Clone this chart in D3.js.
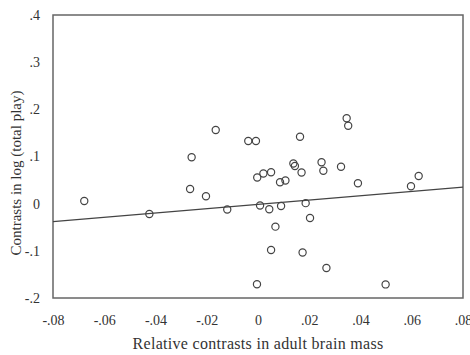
<!DOCTYPE html>
<html>
<head>
<meta charset="utf-8">
<script src="https://cdn.jsdelivr.net/npm/d3@7"></script>
<style>
  body { margin: 0; background: #fff; }
  svg { display: block; }
</style>
</head>
<body>
<svg id="chart" width="470" height="355"></svg>
<script>
// Species contrasts: relative brain mass vs. log total play
const brainContrast = [
  -0.0678, -0.0424, -0.0259, -0.0265, -0.0203, -0.0165, -0.0038, -0.0008,
  -0.0120, -0.0003, 0.0021, 0.0051, 0.0086, 0.0107, 0.0008, 0.0044,
  0.0090, 0.0068, 0.0051, -0.0004, 0.0164, 0.0138, 0.0144, 0.0170,
  0.0186, 0.0203, 0.0174, 0.0248, 0.0255, 0.0324, 0.0346, 0.0352,
  0.0390, 0.0267, 0.0498, 0.0597, 0.0627
];
const playContrast = [
  0.0057, -0.0218, 0.0983, 0.0311, 0.0157, 0.1562, 0.1329, 0.1329,
  -0.0123, 0.0555, 0.0640, 0.0665, 0.0453, 0.0492, -0.0038, -0.0119,
  -0.0049, -0.0487, -0.0981, -0.1708, 0.1420, 0.0852, 0.0799, 0.0661,
  0.0011, -0.0303, -0.1034, 0.0877, 0.0697, 0.0782, 0.1810, 0.1651,
  0.0432, -0.1363, -0.1712, 0.0369, 0.0587
];
// fitted regression line end points
const fitX = [-0.08, 0.08];
const fitY = [-0.038, 0.035];

const xTicks = [-0.08, -0.06, -0.04, -0.02, 0, 0.02, 0.04, 0.06, 0.08];
const yTicks = [-0.2, -0.1, 0, 0.1, 0.2, 0.3, 0.4];

const svg = d3.select("#chart"),
    margin = { top: 15, right: 7, bottom: 57, left: 53 },
    width = +svg.attr("width") - margin.left - margin.right,
    height = +svg.attr("height") - margin.top - margin.bottom,
    chart = svg.append("g").attr("transform", `translate(${margin.left},${margin.top})`);

const font = "'Liberation Serif', 'Times New Roman', serif";

const x = d3.scaleLinear().domain([-0.08, 0.08]).range([0, width]);
const y = d3.scaleLinear().domain([-0.2, 0.4]).range([height, 0]);

// plain hyphen for negatives, and drop the leading zero like ".02" / "-.1"
const locale = d3.formatLocale({ decimal: ".", thousands: ",", grouping: [3], currency: ["", ""], minus: "-" });
const fmt = digits => d => Math.abs(d) < 1e-9 ? "0" : locale.format(`.${digits}f`)(d).replace(/^(-?)0\./, "$1.");

const xAxis = chart.append("g")
    .attr("transform", `translate(0,${height})`)
    .call(d3.axisBottom(x).tickValues(xTicks).tickFormat(fmt(2)).tickSize(0).tickPadding(17));
const yAxis = chart.append("g")
    .call(d3.axisLeft(y).tickValues(yTicks).tickFormat(fmt(1)).tickSize(0).tickPadding(13));

[xAxis, yAxis].forEach(g => {
    g.select(".domain").remove();
    g.selectAll("text")
        .style("font-family", font)
        .style("font-size", "14px")
        .attr("fill", "#333");
});

// plot frame
chart.append("rect")
    .attr("width", width)
    .attr("height", height)
    .attr("fill", "none")
    .attr("stroke", "#666")
    .attr("stroke-width", 1.5);

// regression line
chart.append("line")
    .attr("x1", x(fitX[0])).attr("y1", y(fitY[0]))
    .attr("x2", x(fitX[1])).attr("y2", y(fitY[1]))
    .attr("stroke", "#444")
    .attr("stroke-width", 1.2);

// open circles
chart.selectAll(".pt")
    .data(d3.zip(brainContrast, playContrast))
    .enter()
    .append("circle")
    .attr("class", "pt")
    .attr("cx", d => x(d[0]))
    .attr("cy", d => y(d[1]))
    .attr("r", 3.6)
    .attr("fill", "none")
    .attr("stroke", "#444")
    .attr("stroke-width", 1.2);

// axis titles
svg.append("text")
    .attr("x", margin.left + width / 2)
    .attr("y", 349)
    .attr("text-anchor", "middle")
    .style("font-family", font)
    .style("font-size", "16px")
    .style("letter-spacing", "0.3px")
    .attr("fill", "#333")
    .text("Relative contrasts in adult brain mass");

svg.append("text")
    .attr("transform", "translate(21,173) rotate(-90)")
    .attr("text-anchor", "middle")
    .style("font-family", font)
    .style("font-size", "15px")
    .attr("fill", "#333")
    .text("Contrasts in log (total play)");
</script>
</body>
</html>
